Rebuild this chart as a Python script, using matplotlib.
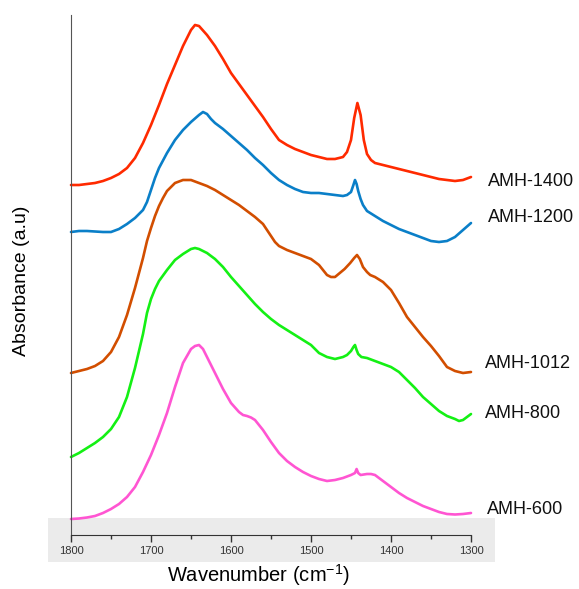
import matplotlib
matplotlib.use("Agg")
import matplotlib.pyplot as plt
from matplotlib.patches import Rectangle
from matplotlib.ticker import MultipleLocator

plt.rcParams['font.family'] = ['Liberation Sans', 'DejaVu Sans']
plt.rcParams['mathtext.fontset'] = 'custom'
plt.rcParams['mathtext.rm'] = 'Liberation Sans'
plt.rcParams['mathtext.it'] = 'Liberation Sans:italic'

# ---- data (wavenumber cm^-1, absorbance a.u.) ----
wn_1400 = [1800, 1790, 1780, 1770, 1760, 1750, 1740, 1730, 1720, 1710, 1700, 1690, 1680, 1670,
           1660, 1650, 1645, 1640, 1630, 1620, 1610, 1600, 1590, 1580, 1570, 1560, 1550, 1540,
           1530, 1520, 1510, 1500, 1490, 1480, 1470, 1460, 1455, 1450, 1446, 1442, 1438, 1434,
           1430, 1425, 1420, 1410, 1400, 1390, 1380, 1370, 1360, 1350, 1340, 1330, 1320, 1310, 1300]
ab_1400 = [350, 350, 351, 352, 354, 357, 361, 367, 377, 392, 410, 430, 451, 470,
           489, 505, 510, 509, 500, 489, 476, 462, 451, 440, 429, 418, 406, 395,
           390, 386, 383, 380, 378, 376, 376, 378, 383, 395, 417, 432, 420, 395,
           381, 375, 372, 370, 368, 366, 364, 362, 360, 358, 356, 355, 354, 355, 358]

wn_1200 = [1800, 1790, 1780, 1770, 1760, 1750, 1740, 1730, 1720, 1710, 1705, 1700, 1695, 1690,
           1680, 1670, 1660, 1650, 1640, 1635, 1630, 1625, 1620, 1610, 1600, 1590, 1580, 1570,
           1560, 1550, 1540, 1530, 1520, 1510, 1500, 1490, 1480, 1470, 1460, 1455, 1450, 1447,
           1445, 1443, 1441, 1438, 1435, 1430, 1420, 1410, 1400, 1390, 1380, 1370, 1360, 1350,
           1340, 1330, 1320, 1310, 1300]
ab_1200 = [303, 304, 304, 303.5, 303, 303, 306, 311, 317, 325, 333, 345, 357, 367,
           382, 395, 405, 413, 420, 423, 421, 416, 412, 406, 399, 392, 385, 377,
           370, 362, 355, 350, 346, 343, 342, 342, 341, 340, 339, 340, 343, 350,
           355, 351, 344, 336, 330, 324, 319, 314, 310, 306, 303, 300, 297, 294,
           293, 294, 298, 305, 312]

wn_1012 = [1800, 1790, 1780, 1770, 1760, 1750, 1740, 1730, 1720, 1710, 1705, 1700, 1695, 1690,
           1685, 1680, 1670, 1660, 1650, 1640, 1630, 1620, 1610, 1600, 1590, 1580, 1570, 1560,
           1555, 1550, 1545, 1540, 1530, 1520, 1510, 1500, 1490, 1485, 1480, 1475, 1470, 1464,
           1458, 1451, 1446, 1442.5, 1439, 1435, 1430, 1426, 1420, 1414, 1410, 1400, 1390, 1380,
           1370, 1360, 1350, 1340, 1330, 1320, 1310, 1300]
ab_1012 = [162, 164, 166, 169, 174, 183, 198, 220, 247, 277, 294, 307, 319, 329,
           337, 344, 352, 355, 355, 352, 349, 345, 340, 335, 330, 324, 318, 311,
           305, 299, 293, 289, 285, 282, 279, 276, 270, 265, 260, 258, 258, 262,
           266, 272, 277, 280, 276, 268, 263, 260, 258, 255, 253, 245, 232, 218,
           208, 198, 189, 179, 168, 164, 162, 163]

wn_800 = [1800, 1790, 1780, 1770, 1760, 1750, 1740, 1730, 1720, 1710, 1705, 1700, 1695, 1690,
          1680, 1670, 1660, 1650, 1645, 1640, 1630, 1620, 1610, 1600, 1590, 1580, 1570, 1560,
          1550, 1540, 1530, 1520, 1510, 1500, 1490, 1480, 1470, 1460, 1455, 1450, 1447, 1445,
          1443, 1441, 1437, 1430, 1420, 1410, 1400, 1390, 1380, 1370, 1360, 1350, 1340, 1330,
          1320, 1315, 1310, 1300]
ab_800 = [78, 82, 87, 92, 98, 106, 118, 138, 167, 201, 222, 236, 246, 254,
          265, 275, 281, 286, 287, 286, 282, 276, 268, 258, 249, 240, 231, 223,
          216, 210, 205, 200, 195, 190, 182, 178, 176, 178, 180, 184, 188, 190,
          185, 181, 178, 177, 174, 171, 168, 163, 155, 147, 138, 131, 124, 119,
          116, 114, 115, 121]

wn_600 = [1800, 1790, 1780, 1770, 1760, 1750, 1740, 1730, 1720, 1710, 1700, 1690, 1680, 1670,
          1660, 1650, 1645, 1640, 1635, 1630, 1620, 1610, 1600, 1590, 1585, 1580, 1575, 1570,
          1560, 1550, 1540, 1530, 1520, 1510, 1500, 1490, 1480, 1470, 1460, 1450, 1445, 1443,
          1441, 1438, 1430, 1425, 1420, 1410, 1400, 1390, 1380, 1370, 1360, 1350, 1340, 1330,
          1320, 1310, 1300]
ab_600 = [16, 16.5, 17.5, 19, 22, 26, 31, 38, 48, 63, 80, 100, 122, 148,
          172, 186, 189, 190, 186, 178, 162, 146, 132, 123, 120, 119, 117.5, 115,
          105, 93, 82, 74, 68, 63, 59, 56, 54, 55, 57, 60, 62, 66,
          62, 60, 61, 61, 60, 54, 48, 42, 37, 33, 29, 26, 23, 21,
          20.5, 21, 22]

labels = ['AMH-1400', 'AMH-1200', 'AMH-1012', 'AMH-800', 'AMH-600']
label_y = [353, 317, 171, 122, 26]
label_x = [1279, 1279, 1283, 1282, 1280]
colors = ['#FF2A00', '#0A7FC8', '#D24E00', '#14F014', '#FF55D2']
x_ticks = [1800, 1700, 1600, 1500, 1400, 1300]

W, H = 579, 589
fig = plt.figure(figsize=(W / 100, H / 100), dpi=100)
fig.patches.append(Rectangle((48 / W, 27 / H), (495 - 48) / W, 44 / H,
                             transform=fig.transFigure, facecolor='#ebebeb',
                             edgecolor='none', zorder=-1))
ax = fig.add_axes([71 / W, (H - 535) / H, 400 / W, 520 / H])
ax.patch.set_alpha(0)

series = [(wn_1400, ab_1400), (wn_1200, ab_1200), (wn_1012, ab_1012),
          (wn_800, ab_800), (wn_600, ab_600)]
for (wx, wy), c in zip(series, colors):
    ax.plot(wx, wy, color=c, lw=1.9, solid_joinstyle='round', solid_capstyle='round',
            clip_on=False)

for lab, lx, ly in zip(labels, label_x, label_y):
    ax.text(lx, ly, lab, fontsize=13, va='center', ha='left', color='#111111', clip_on=False)

ax.set_xlim(1800, 1300)
ax.set_ylim(0, 520)
ax.set_xticks(x_ticks)
ax.xaxis.set_minor_locator(MultipleLocator(50))
ax.tick_params(axis='x', which='major', length=5, width=1, colors='#333333',
               labelsize=8, labelcolor='#333333', pad=3)
ax.tick_params(axis='x', which='minor', length=3, width=1, colors='#333333')
ax.set_yticks([])
for s in ['top', 'right']:
    ax.spines[s].set_visible(False)
ax.spines['left'].set_color('#555555')
ax.spines['bottom'].set_color('#333333')

fig.text(258 / W, 1 - 575 / H, 'Wavenumber (cm$^{-1}$)', fontsize=14.5, ha='center', va='center')
fig.text(22 / W, 1 - 281 / H, 'Absorbance (a.u)', fontsize=14, ha='center', va='center',
         rotation=90)

fig.savefig('out.png', dpi=100)
